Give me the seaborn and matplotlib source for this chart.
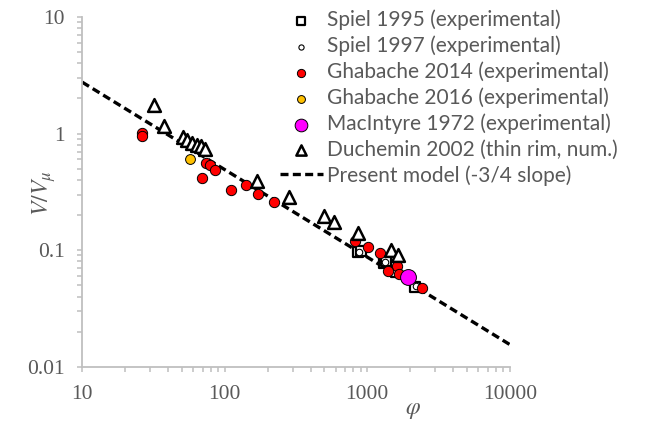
import numpy as np
import pandas as pd
import matplotlib
matplotlib.use("Agg")
import matplotlib.pyplot as plt
import matplotlib.ticker as mticker
import seaborn as sns

# values (phi, V/V_mu)
spiel95_phi = [867, 905, 1313, 1360, 1592, 2159]
spiel95_v = [0.0963, 0.0975, 0.0777, 0.0800, 0.0656, 0.0482]

spiel97_phi = [880, 1330, 2180]
spiel97_v = [0.0970, 0.0785, 0.0490]

ghab14_phi = [26.4, 26.4, 74, 78.9, 85.9, 69.7, 109.9, 142, 171.4, 223,
              822, 1014, 1231, 1607, 1399, 1660, 2404]
ghab14_v = [1.01, 0.955, 0.556, 0.54, 0.489, 0.414, 0.326, 0.362, 0.305, 0.26,
            0.119, 0.107, 0.095, 0.073, 0.0657, 0.0627, 0.0477]

ghab16_phi = [57.1]
ghab16_v = [0.607]

macintyre_phi = [1918]
macintyre_v = [0.059]

duchemin_phi = [32.1, 37.2, 50.8, 54.7, 59.3, 63.7, 67.9, 72.8,
                168.7, 282.5, 494, 587, 867, 1469, 1652]
duchemin_v = [1.75, 1.16, 0.933, 0.886, 0.835, 0.802, 0.78, 0.736,
              0.389, 0.287, 0.197, 0.174, 0.141, 0.0995, 0.0915]

model_phi = [10, 10000]
model_v = [2.76, 0.0155]

sns.set_style("ticks")
grey = "#595959"
spine = "#BFBFBF"
plt.rcParams["font.family"] = ["Lato", "DejaVu Sans"]
plt.rcParams["mathtext.fontset"] = "stix"

fig = plt.figure(figsize=(6.47, 4.24), dpi=100)
ax = fig.add_axes([0.127, 0.135, 0.661, 0.825])

sns.lineplot(x=model_phi, y=model_v, ax=ax, color="black", lw=2.4,
             label="Present model (-3/4 slope)", zorder=1)
ax.lines[-1].set_linestyle((0, (2.4, 1.3)))

sns.scatterplot(x=spiel95_phi, y=spiel95_v, ax=ax, marker="s", s=45,
                facecolor="white", edgecolor="black", linewidth=1.6,
                label="Spiel 1995 (experimental)", zorder=2)
sns.scatterplot(x=spiel97_phi, y=spiel97_v, ax=ax, marker="o", s=22,
                facecolor="white", edgecolor="black", linewidth=0.8,
                label="Spiel 1997 (experimental)", zorder=3)
sns.scatterplot(x=ghab14_phi, y=ghab14_v, ax=ax, marker="o", s=55,
                color="#FF0000", edgecolor="black", linewidth=0.7,
                label="Ghabache 2014 (experimental)", zorder=4)
sns.scatterplot(x=ghab16_phi, y=ghab16_v, ax=ax, marker="o", s=50,
                color="#FFC000", edgecolor="black", linewidth=0.7,
                label="Ghabache 2016 (experimental)", zorder=4)
sns.scatterplot(x=macintyre_phi, y=macintyre_v, ax=ax, marker="o", s=130,
                color="#FF00FF", edgecolor="black", linewidth=0.7,
                label="MacIntyre 1972 (experimental)", zorder=5)
sns.scatterplot(x=duchemin_phi, y=duchemin_v, ax=ax, marker="^", s=85,
                facecolor="white", edgecolor="black", linewidth=1.8,
                label="Duchemin 2002 (thin rim, num.)", zorder=6)

ax.set_xscale("log")
ax.set_yscale("log")
ax.set_xlim(10, 10000)
ax.set_ylim(0.01, 10)
for axis in (ax.xaxis, ax.yaxis):
    axis.set_major_locator(mticker.LogLocator(base=10, numticks=10))
    axis.set_major_formatter(mticker.FuncFormatter(lambda v, p: f"{v:g}"))
    axis.set_minor_locator(mticker.LogLocator(base=10, subs=np.arange(2, 10), numticks=10))
    axis.set_minor_formatter(mticker.NullFormatter())

for s in ["top", "right"]:
    ax.spines[s].set_visible(False)
for s in ["left", "bottom"]:
    ax.spines[s].set_color(spine)
    ax.spines[s].set_linewidth(1.3)

ax.tick_params(axis="x", which="major", direction="out", color=spine, width=1.1,
               length=3.8, bottom=True, labelsize=15.5, labelcolor=grey, pad=9.5)
ax.tick_params(axis="y", which="major", direction="out", color=spine, width=1.1,
               length=3.8, left=True, labelsize=15.5, labelcolor=grey, pad=8.5)
ax.tick_params(which="minor", direction="out", color=spine, width=1.1,
               length=3.8, left=True, bottom=True)
for lab in ax.get_xticklabels() + ax.get_yticklabels():
    lab.set_family("Liberation Serif")

ax.set_xlabel(r"$\varphi$", fontsize=17, color=grey)
ax.set_ylabel(r"$V/V_{\mu}$", fontsize=17, color=grey)
ax.xaxis.set_label_coords(0.774, -0.096)
ax.yaxis.set_label_coords(-0.056, 0.497)

handles, labels = ax.get_legend_handles_labels()
order = [1, 2, 3, 4, 5, 6, 0]
leg = ax.legend([handles[i] for i in order], [labels[i] for i in order],
                loc="upper left", bbox_to_anchor=(0.420, 0.997),
                bbox_transform=fig.transFigure, frameon=False,
                fontsize=15, handlelength=2.05, handletextpad=0.2,
                labelspacing=0.26, borderaxespad=0, markerscale=0.8)
for t in leg.get_texts():
    t.set_color(grey)

fig.savefig("out.png", dpi=100)
